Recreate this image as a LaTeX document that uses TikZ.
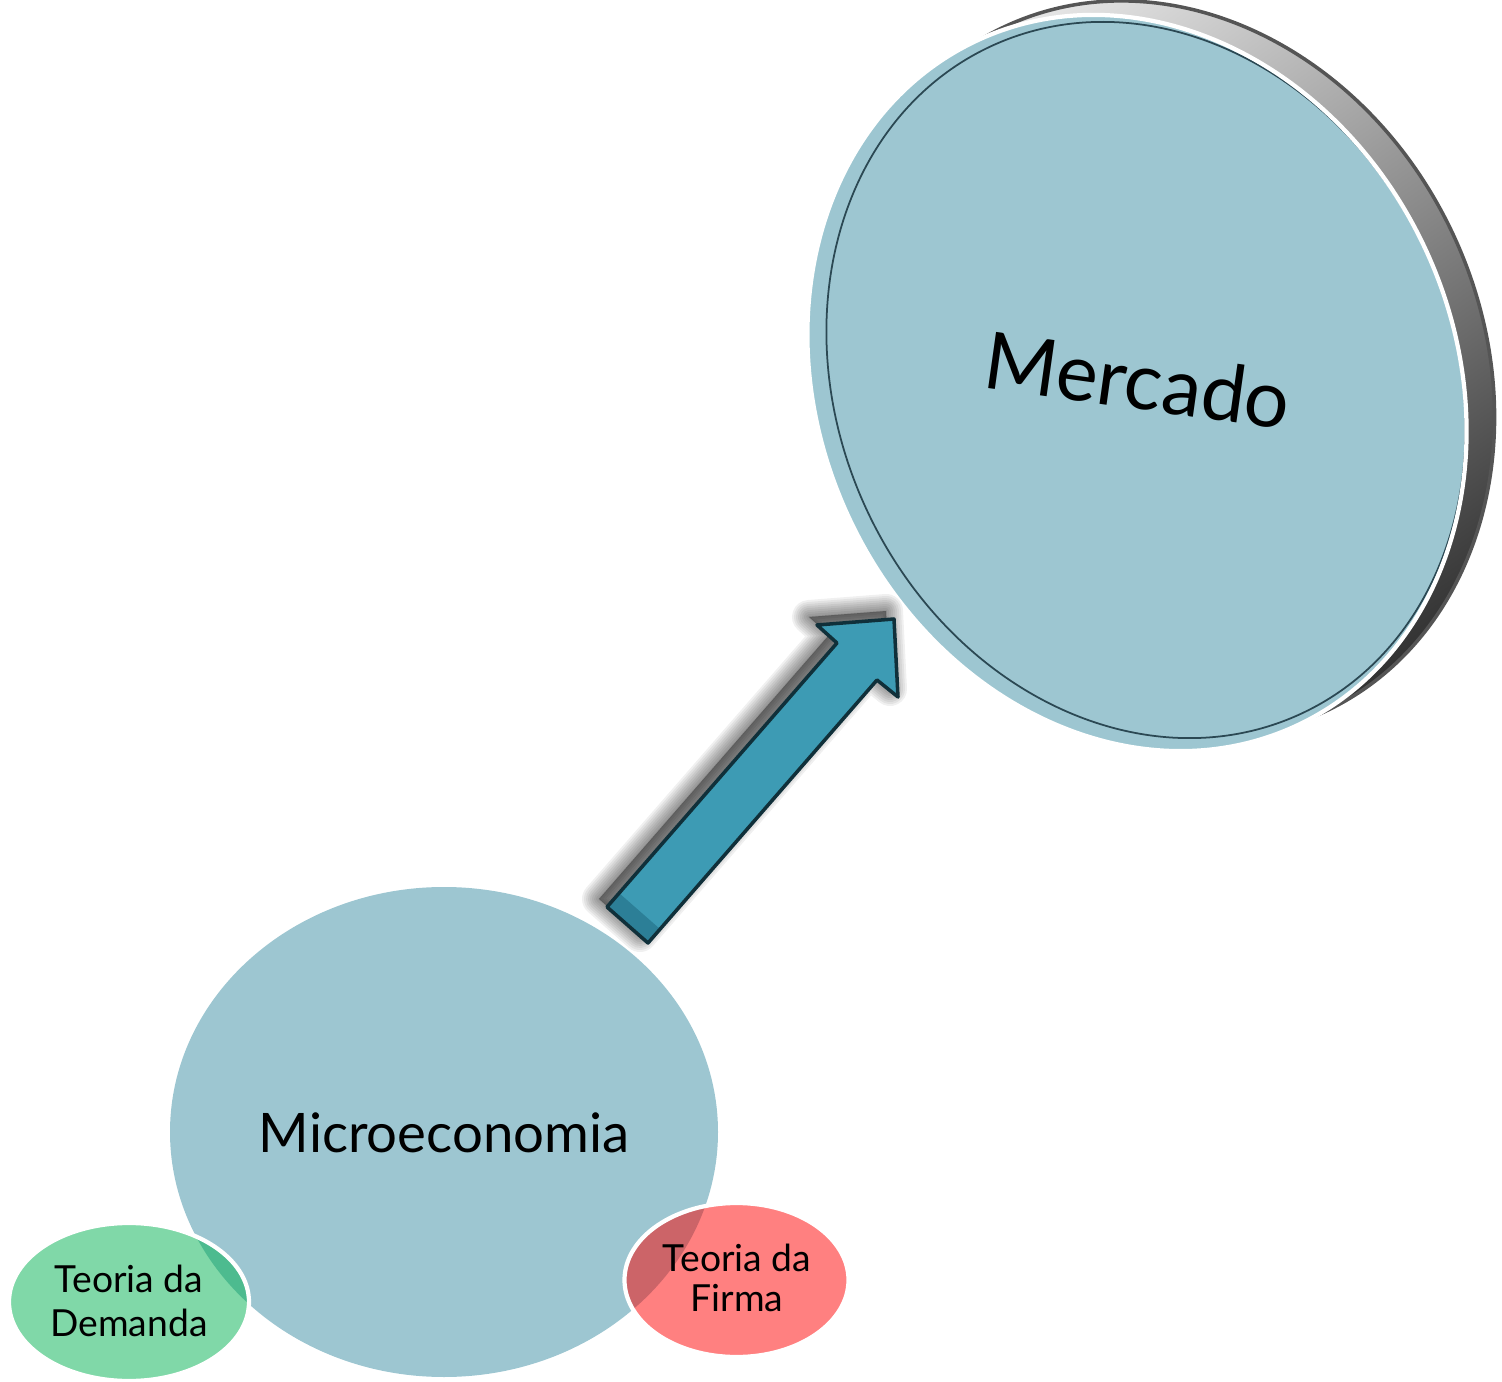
\documentclass[tikz,border=0pt]{standalone}
\usepackage{fontspec}
\setmainfont{Lato}
\definecolor{microblue}{HTML}{9DC6D1}
\definecolor{arrowfill}{HTML}{3D9BB4}
\definecolor{arrowcap}{HTML}{2C7F97}
\definecolor{arrowline}{HTML}{10303A}
\definecolor{demgreen}{HTML}{80D8A8}
\definecolor{demgreendark}{HTML}{4DBB8F}
\definecolor{firmred}{HTML}{FF8080}
\definecolor{firmreddark}{HTML}{CC6468}
\definecolor{rimlight}{HTML}{F0F0F0}
\definecolor{rimdark}{HTML}{2A2A2A}
\definecolor{rimedge}{HTML}{555555}
\definecolor{faceline}{HTML}{2B4853}
\tikzset{
  label text/.style={inner sep=0pt, text=black},
  white rim/.style={draw=white, line width=1.2pt},
}
\begin{document}
\begin{tikzpicture}[x=0.01cm,y=-0.01cm]
\useasboundingbox (0,0) rectangle (1502,1382);
\clip (0,0) rectangle (1502,1382);
\def\ma{378}\def\mb{318}
% ---- Mercado disc: rim ----
\foreach \k in {0,...,8}{
  \begin{scope}
    \clip[shift={({1137+\k*3.5},{383-\k*1.8})},rotate=115] (0,0) ellipse [x radius=\ma, y radius=\mb];
    \shade[top color=rimlight, bottom color=rimdark, shading angle=35] (760,-40) rectangle (1540,800);
  \end{scope}
}
\draw[rimedge, line width=1pt, shift={(1165,369)}, rotate=115] (0,0) ellipse [x radius=\ma, y radius=\mb];
% ---- face ----
\fill[microblue, shift={(1137,383)}, rotate=115] (0,0) ellipse [x radius=\ma, y radius=\mb];
\begin{scope}
  \clip[shift={(1137,383)}, rotate=115] (0,0) ellipse [x radius=\ma, y radius=\mb];
  \draw[faceline, line width=0.5pt, shift={(1146,380)}, rotate=115] (0,0) ellipse [x radius=\ma-10, y radius=\mb-10];
\end{scope}
\draw[white, line width=1.2pt, shift={(1137,383)}, rotate=115] (0,0) ellipse [x radius=\ma, y radius=\mb];
\node[label text, font=\fontsize{22.5}{26}\selectfont, rotate=-8] (mercado) at (1138,380) {Mercado};
% ---- Microeconomia ----
\fill[microblue] (444,1132) ellipse [x radius=274, y radius=245];
\node[label text, font=\fontsize{15.5}{18}\selectfont, anchor=base] (micro) at (444,1152) {Microeconomia};
% ---- block arrow ----
\def\arrowpath{(607,907)--(837,643)--(817,625)--(894,619)--(898,697)--(877,680)--(648,943)--cycle}
\foreach \w in {34,30,...,2}{
  \filldraw[black, draw opacity=0.06, fill opacity=0.05, line width=\w*0.2845pt, line join=round, shift={(-8,-8)}] \arrowpath;
}
\fill[arrowfill] \arrowpath;
\fill[arrowcap] (607,907)--(619,893)--(660,929)--(648,943)--cycle;
\draw[arrowline, line width=1pt, line join=round] \arrowpath;
% ---- Teoria da Demanda ----
\fill[demgreen] (129,1302) ellipse [x radius=120, y radius=79];
\begin{scope}
  \clip (444,1132) ellipse [x radius=274, y radius=245];
  \fill[demgreendark] (129,1302) ellipse [x radius=120, y radius=79];
\end{scope}
\draw[white rim] (129,1302) ellipse [x radius=120, y radius=79];
\node[label text, align=center, font=\fontsize{10.6}{12.5}\selectfont] (demanda) at (129,1301) {Teoria da\\Demanda};
% ---- Teoria da Firma ----
\fill[firmred] (736.5,1280) ellipse [x radius=112, y radius=77];
\begin{scope}
  \clip (444,1132) ellipse [x radius=274, y radius=245];
  \fill[firmreddark] (736.5,1280) ellipse [x radius=112, y radius=77];
\end{scope}
\draw[white rim] (736.5,1280) ellipse [x radius=112, y radius=77];
\node[label text, align=center, font=\fontsize{10.6}{11.4}\selectfont] (firma) at (737,1278) {Teoria da\\Firma};
\end{tikzpicture}
\end{document}
